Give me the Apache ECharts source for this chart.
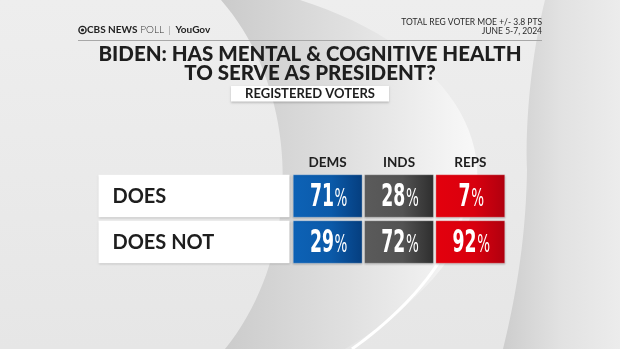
<!DOCTYPE html>
<html>
<head>
<meta charset="utf-8">
<script src="https://cdn.jsdelivr.net/npm/echarts@6/dist/echarts.min.js"></script>
<style>
html,body{margin:0;padding:0;background:#e8e8e8;}
#c{width:620px;height:349px;}
</style>
</head>
<body>
<div id="c"></div>
<script>
// ---- data ----
const groups = ['DEMS', 'INDS', 'REPS'];
const answers = ['DOES', 'DOES NOT'];
const dems = [71, 29];
const inds = [28, 72];
const reps = [7, 92];
const titleText = 'BIDEN: HAS MENTAL & COGNITIVE HEALTH\nTO SERVE AS PRESIDENT?';
const subtitleText = 'REGISTERED VOTERS';
const moeText = 'TOTAL REG VOTER MOE +/- 3.8 PTS\nJUNE 5-7, 2024';

const seriesByGroup = [dems, inds, reps];
const cellData = [];
seriesByGroup.forEach((vals, g) => vals.forEach((v, r) => cellData.push([g, r, v])));

const cellColors = [
  ['#0d62b6', '#0b5aa9', '#053e7f'],
  ['#5b5b5b', '#535353', '#2e2e2e'],
  ['#e3000d', '#d9000e', '#b0000f']
];

// decorative background curve helper (samples cubic bezier segments)
function bez(p0, p1, p2, p3, n) {
  const out = [];
  for (let i = 0; i <= n; i++) {
    const t = i / n, u = 1 - t;
    out.push([
      u*u*u*p0[0] + 3*u*u*t*p1[0] + 3*u*t*t*p2[0] + t*t*t*p3[0],
      u*u*u*p0[1] + 3*u*u*t*p1[1] + 3*u*t*t*p2[1] + t*t*t*p3[1]
    ]);
  }
  return out;
}
const bandPts = bez([221,0],[300,90],[305,250],[225,349],40)
  .concat(bez([345,349],[560,220],[490,60],[300,0],40));
const rightPts = bez([545,0],[530,60],[525,130],[527,170],20)
  .concat(bez([527,170],[526,240],[515,300],[503,349],20))
  .concat([[620,349],[620,0]]);
const glintPts = bez([352,349],[420,300],[455,250],[470,190],30);

const chart = echarts.init(document.getElementById('c'), null, {renderer: 'canvas'});
const numFont = '"DejaVu Sans Condensed", "Liberation Sans Narrow", sans-serif';

function cellItem(params, api) {
  const g = api.value(0), r = api.value(1), v = api.value(2);
  const c = api.coord([g, r]);
  const sz = api.size([1, 1]);
  const w = sz[0] - 2.5, h = sz[1] - 3.5;
  const cols = cellColors[g];
  return {
    type: 'group',
    children: [
      {
        type: 'rect',
        shape: {x: c[0] - w / 2, y: c[1] - h / 2, width: w, height: h},
        style: {
          fill: new echarts.graphic.LinearGradient(0, 0, 1, 0, [
            {offset: 0, color: cols[0]}, {offset: 0.55, color: cols[1]}, {offset: 1, color: cols[2]}
          ]),
          stroke: 'rgba(255,255,255,0.35)', lineWidth: 0.8,
          shadowBlur: 2, shadowOffsetY: 1, shadowColor: 'rgba(0,0,0,0.25)'
        }
      },
      {
        type: 'text',
        x: c[0] + 1, y: c[1] + 1.5,
        scaleX: 0.6,
        style: {
          text: '{n|' + v + '}{p|%}',
          align: 'center', verticalAlign: 'middle',
          rich: {
            n: {fontFamily: numFont, fontWeight: 'bold', fontSize: 32, fill: '#fff', color: '#fff'},
            p: {fontFamily: numFont, fontWeight: 'normal', fontSize: 25, fill: '#fff', color: '#fff', padding: [4, 0, 0, 1]}
          }
        }
      }
    ]
  };
}

function labelItem(params, api) {
  const r = api.value(0);
  const c = api.coord([0, r]);
  const sz = api.size([1, 1]);
  const h = sz[1] - 3.5;
  const right = c[0] - sz[0] / 2 - 2.5;
  const w = 191;
  return {
    type: 'group',
    children: [
      {
        type: 'rect',
        shape: {x: right - w, y: c[1] - h / 2, width: w, height: h},
        style: {fill: '#ffffff', shadowBlur: 2, shadowOffsetY: 1, shadowColor: 'rgba(0,0,0,0.2)'}
      },
      {
        type: 'text',
        x: right - w + 14, y: c[1] + 1,
        style: {
          text: answers[r],
          fontFamily: 'Lato, "Noto Sans", sans-serif', fontWeight: 'bold', fontSize: 20,
          fill: '#1e1e1e', align: 'left', verticalAlign: 'middle'
        }
      }
    ]
  };
}

const option = {
  backgroundColor: '#e8e8e8',
  animation: false,
  grid: {left: 292, top: 173, width: 214, height: 92},
  xAxis: {
    type: 'category', data: groups, position: 'top',
    axisLine: {show: false}, axisTick: {show: false}, splitLine: {show: false},
    axisLabel: {margin: 3, fontFamily: 'Lato, "Noto Sans", sans-serif', fontWeight: 'bold', fontSize: 13.5, color: '#1e1e1e'}
  },
  yAxis: {
    type: 'category', data: answers, inverse: true, show: false
  },
  graphic: [
    {type: 'rect', z: -10, shape: {x: 0, y: 0, width: 620, height: 349},
     style: {fill: new echarts.graphic.LinearGradient(0, 0, 0, 1, [{offset: 0, color: '#eeeeee'}, {offset: 1, color: '#e6e6e6'}])}},
    {type: 'polygon', z: -9, shape: {points: bandPts},
     style: {fill: new echarts.graphic.LinearGradient(0, 0, 1, 0, [
       {offset: 0, color: '#cbcbcb'}, {offset: 0.5, color: '#e0e0e0'}, {offset: 0.9, color: '#f4f4f4'}, {offset: 1, color: '#f8f8f8'}])}},
    {type: 'polyline', z: -8, shape: {points: glintPts},
     style: {stroke: '#ffffff', lineWidth: 3}},
    {type: 'polygon', z: -9, shape: {points: rightPts},
     style: {fill: new echarts.graphic.LinearGradient(0, 0, 1, 0, [
       {offset: 0, color: '#cdcdcd'}, {offset: 0.5, color: '#e2e2e2'}, {offset: 1, color: '#ececec'}])}},
    {type: 'circle', shape: {cx: 82.5, cy: 30, r: 3.6}, style: {fill: 'none', stroke: '#222', lineWidth: 1.4}},
    {type: 'circle', shape: {cx: 82.5, cy: 30, r: 1.6}, style: {fill: '#222'}},
    {type: 'text', x: 87, y: 30,
     style: {text: '{b|CBS NEWS}{l| POLL}{s|  |  }{b|YouGov}', verticalAlign: 'middle', align: 'left',
       rich: {
         b: {fontFamily: 'Lato, sans-serif', fontWeight: 'bold', fontSize: 10, fill: '#222', color: '#222'},
         l: {fontFamily: 'Lato, sans-serif', fontWeight: 300, fontSize: 10, fill: '#333', color: '#333'},
         s: {fontFamily: 'Lato, sans-serif', fontSize: 9, fill: '#999', color: '#999'}
       }}},
    {type: 'text', x: 542, y: 27,
     style: {text: moeText, align: 'right', verticalAlign: 'middle', lineHeight: 9,
       fontFamily: 'Lato, sans-serif', fontWeight: 'normal', fontSize: 8.5, fill: '#2a2a2a'}},
    {type: 'line', shape: {x1: 78, y1: 40.5, x2: 542, y2: 40.5}, style: {stroke: '#a8a8a8', lineWidth: 1}},
    {type: 'text', x: 310, y: 63.5,
     style: {text: titleText, align: 'center', verticalAlign: 'middle', lineHeight: 19,
       fontFamily: 'Lato, "Noto Sans", sans-serif', fontWeight: 900, fontSize: 20.5, fill: '#1e1e1e'}},
    {type: 'rect', shape: {x: 231, y: 86, width: 158, height: 15.5},
     style: {fill: '#ffffff', shadowBlur: 2, shadowOffsetY: 1, shadowColor: 'rgba(0,0,0,0.2)'}},
    {type: 'text', x: 310, y: 94,
     style: {text: subtitleText, align: 'center', verticalAlign: 'middle',
       fontFamily: 'Lato, "Noto Sans", sans-serif', fontWeight: 'bold', fontSize: 13, fill: '#1e1e1e'}}
  ],
  series: [
    {type: 'custom', renderItem: labelItem, data: answers.map((a, i) => [i]), encode: {y: 0}, silent: true},
    {type: 'custom', renderItem: cellItem, data: cellData, encode: {x: 0, y: 1}, silent: true}
  ]
};
chart.setOption(option);
</script>
</body>
</html>
